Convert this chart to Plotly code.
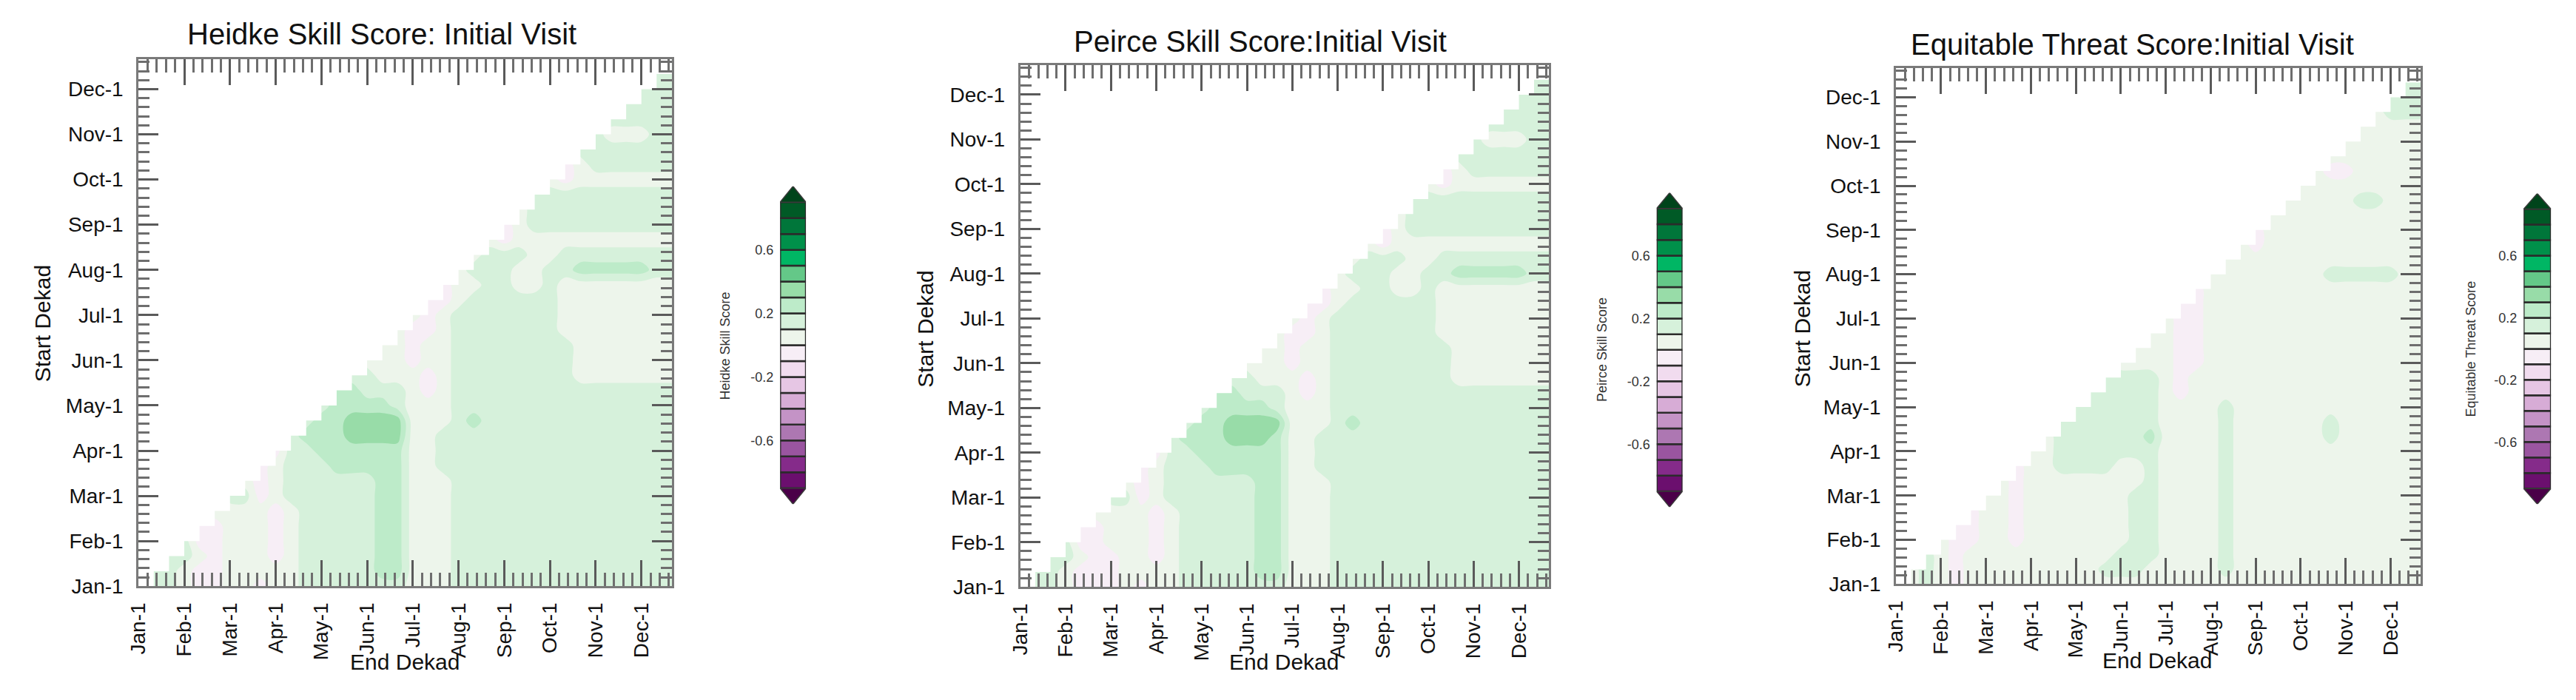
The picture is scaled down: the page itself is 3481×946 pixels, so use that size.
import plotly.graph_objects as go

# page is shown with the default 8 px body margin, so the figure is a bit smaller
PAGE_W, PAGE_H = 3481, 946
OFF = 8
FIG_W, FIG_H = PAGE_W - 2 * OFF, PAGE_H - 2 * OFF
FONT = "Liberation Sans, Arial, Helvetica, sans-serif"

# ---- axes data -------------------------------------------------------------
months = ["Jan-1", "Feb-1", "Mar-1", "Apr-1", "May-1", "Jun-1",
          "Jul-1", "Aug-1", "Sep-1", "Oct-1", "Nov-1", "Dec-1"]
month_dekad = [0, 3, 6, 9, 12, 15, 18, 21, 24, 27, 30, 33]
n_points = 36  # dekad grid points 0..35

# colour classes (0.1 wide) incl. the two open-ended triangles
levels = [-0.9, -0.8, -0.7, -0.6, -0.5, -0.4, -0.3, -0.2, -0.1, 0.0,
          0.1, 0.2, 0.3, 0.4, 0.5, 0.6, 0.7, 0.8, 0.9]
level_colors = ["#4a0048", "#6b0f6e", "#852b8a", "#9a55a0", "#ad77b2",
                "#c493c6", "#d7acd6", "#e6c6e4", "#f1dcef", "#f7eef6",
                "#edf5eb", "#d6f1db", "#bdebc9", "#98dca8", "#64c888",
                "#00b664", "#00904a", "#00763a", "#005a26", "#00441b"]
cb_ticks = [-0.6, -0.2, 0.2, 0.6]

# score class read per grid point -> class mid value
band_mid = {"p": -0.05, "0": 0.05, "1": 0.15, "2": 0.25, "3": 0.35}

# row index = start dekad; each string holds end dekads start..35
heidke_rows = [
    "0110pp00p001111111000111111111111111",
    "110pp000001111122000111111111111111",
    "110p000p01111122000111111111111111",
    "1pp000p01111122000111111111111111",
    "pp000p01111122000111111111111111",
    "0000p01111122000111111111111111",
    "11p011111122000111111111111111",
    "0p011111122000111111111111111",
    "p011122222001111111111111111",
    "p11222222001111111111111111",
    "12223333001111111111111111",
    "1223333000121111111111111",
    "122221000111111111111111",
    "221110p0111111111111111",
    "11000p0111111110000000",
    "000p00111111110000000",
    "00p00111111110000000",
    "0pp0111111100000000",
    "0p0111111100000000",
    "pp011111100000000",
    "p001100100000000",
    "011100112222211",
    "01110011111111",
    "0p00000000000",
    "p01111111111",
    "01111111111",
    "1111111111",
    "0p0000000",
    "p0111111",
    "1111111",
    "100011",
    "11111",
    "1111",
    "111",
    "11",
    "1",
]

peirce_rows = [
    "0110ppp0p001111111000111111111111111",
    "110ppp00001111122000111111111111111",
    "110pp00p01111122000111111111111111",
    "1pp000p01111122000111111111111111",
    "pp000p01111122000111111111111111",
    "0000p01111122000111111111111111",
    "11p011111122000111111111111111",
    "0p011111122000111111111111111",
    "p011122222001111111111111111",
    "p11222222001111111111111111",
    "12223332001111111111111111",
    "1223333000121111111111111",
    "122221000111111111111111",
    "221110p0111111111111111",
    "11000p0111111110000000",
    "000p00111111110000000",
    "00p00111111110000000",
    "0pp0111111100000000",
    "0p0111111100000000",
    "pp011111100000000",
    "p001100100000000",
    "011100112222211",
    "01110011111111",
    "0p00000000000",
    "p01111111111",
    "01111111111",
    "1111111111",
    "0p0000000",
    "p0111111",
    "1111111",
    "100011",
    "11111",
    "1111",
    "111",
    "11",
    "1",
]

ets_rows = [
    "0010p0000000000000000000000000000000",
    "010p0000000001110000010000000000000",
    "10p0000000000111000010000000000000",
    "0pp00p000000011000010000000000000",
    "pp00p000000011000010000000000000",
    "p00p000000011000010000000000000",
    "00p000000011000010000000000000",
    "0p000000001000010000000000000",
    "p001111001000010000000000000",
    "001111111000010000000000000",
    "01111112000010000001000000",
    "1111111000010000001000000",
    "111111000010000000000000",
    "111110p0000000000000000",
    "11110p0000000000000000",
    "0000pp000000000000000",
    "000pp000000000000000",
    "00pp000000000000000",
    "0pp000000000000000",
    "pp000000000000000",
    "p000000000000000",
    "000000001111100",
    "00000000000000",
    "0p00000000000",
    "p00000000000",
    "00000000000",
    "0000011000",
    "000000000",
    "0pp00000",
    "0000000",
    "000000",
    "00000",
    "0111",
    "111",
    "11",
    "1",
]

titles = ["Heidke Skill Score: Initial Visit",
          "Peirce Skill Score:Initial Visit",
          "Equitable Threat Score:Initial Visit"]
cb_titles = ["Heidke Skill Score", "Peirce Skill Score", "Equitable Threat Score"]

# ---- layout (screen pixel boxes) -------------------------------------------
# plot frame: left, right, top, bottom
plot_box = [(172, 896, 81, 806), (1369, 2087, 89, 807), (2558, 3270, 93, 803)]
# colour bar: left, right, top apex, bottom apex
cb_box = [(1043, 1078, 256, 693), (2233, 2268, 265, 697), (3410, 3447, 266, 693)]
title_pos = [(502, 47), (1695, 57), (2879, 61)]
ylab_pos = [(42, 445), (1240, 452), (2431, 452)]
xlab_pos = [(533, 910), (1727, 910), (2912, 908)]
cbt_pos = [(968, 476), (2159, 481), (3338, 480)]


def px(x):
    return (x - OFF) / FIG_W


def py(y):
    return 1 - (y - OFF) / FIG_H


def to_grid(rows):
    z = []
    for j, row in enumerate(rows):
        assert len(row) == n_points - j, (j, len(row))
        z.append([None] * j + [band_mid[c] for c in row])
    return z


# stepped colourscale matching plotly's contour fill mapping (class k -> k/19)
nb = len(level_colors)
cscale = []
for k, col in enumerate(level_colors):
    lo = max(0.0, (k - 0.5) / (nb - 1))
    hi = min(1.0, (k + 0.5) / (nb - 1))
    cscale += [[lo, col], [hi, col]]

fig = go.Figure()
layout_axes = {}
annotations = []

for p, rows in enumerate([heidke_rows, peirce_rows, ets_rows]):
    n = p + 1
    xa, ya = f"x{n}", f"y{n}"
    z = to_grid(rows)
    grid = list(range(n_points))

    fig.add_trace(go.Contour(
        x=grid, y=grid, z=z, xaxis=xa, yaxis=ya,
        connectgaps=True, colorscale=cscale, showscale=False,
        contours=dict(start=levels[0], end=levels[-1], size=0.1,
                      coloring="fill", showlines=False),
        line=dict(width=0), hoverinfo="skip",
    ))

    # white staircase over the cells without data (end dekad before start dekad)
    sx, sy = [0], [0]
    for j in range(n_points - 1):
        edge = sum(1 for i in range(n_points - 1) if z[j + 1][i] is None)
        sx += [edge, edge]
        sy += [j, j + 1]
    sx += [0, 0]
    sy += [n_points - 1, 0]
    fig.add_trace(go.Scatter(
        x=sx, y=sy, xaxis=xa, yaxis=ya, mode="lines", fill="toself",
        fillcolor="white", line=dict(width=0, color="white"), hoverinfo="skip",
    ))

    l, r, t, b = plot_box[p]
    common = dict(
        range=[0, n_points - 1], showgrid=False, zeroline=False,
        showline=True, linecolor="#7a7a7a", linewidth=3, mirror="ticks",
        ticks="inside", tickcolor="#5a5a5a", tickwidth=3,
        tickmode="array", tickvals=month_dekad, ticktext=months,
        tickfont=dict(size=28, color="#111", family=FONT),
    )
    layout_axes[f"xaxis{n}"] = dict(
        common, domain=[px(l), px(r)], anchor=ya, ticklen=35, tickangle=-90,
        ticklabelstandoff=8,
        minor=dict(tickmode="linear", tick0=0, dtick=0.6, ticks="inside",
                   ticklen=18, tickwidth=3, tickcolor="#6e6e6e", showgrid=False),
    )
    layout_axes[f"yaxis{n}"] = dict(
        common, domain=[py(b), py(t)], anchor=xa, ticklen=27,
        ticklabelstandoff=12,
        minor=dict(tickmode="linear", tick0=0, dtick=0.6, ticks="inside",
                   ticklen=15, tickwidth=3, tickcolor="#6e6e6e", showgrid=False),
    )

    # ---- colour bar as its own little axis ----
    c = p + 4
    cxa, cya = f"x{c}", f"y{c}"
    fig.add_trace(go.Bar(
        x=[0] * (len(levels) - 1), y=[0.1] * (len(levels) - 1), base=levels[:-1],
        width=1, xaxis=cxa, yaxis=cya, hoverinfo="skip",
        marker=dict(color=level_colors[1:-1], line=dict(color="#2b2b2b", width=2.5)),
    ))
    for yb, tip, col in [(levels[-1], 1.0, level_colors[-1]),
                         (levels[0], -1.0, level_colors[0])]:
        fig.add_trace(go.Scatter(
            x=[-0.5, 0.5, 0, -0.5], y=[yb, yb, tip, yb], xaxis=cxa, yaxis=cya,
            mode="lines", fill="toself", fillcolor=col,
            line=dict(color="#3a3a3a", width=1.5), hoverinfo="skip",
        ))
    cl, cr, ct, cb = cb_box[p]
    layout_axes[f"xaxis{c}"] = dict(domain=[px(cl), px(cr)], anchor=cya,
                                    range=[-0.5, 0.5], visible=False)
    layout_axes[f"yaxis{c}"] = dict(
        domain=[py(cb), py(ct)], anchor=cxa, range=[-1, 1],
        showgrid=False, zeroline=False, showline=False, ticks="",
        tickmode="array", tickvals=cb_ticks, ticktext=[f"{v:g}" for v in cb_ticks],
        tickfont=dict(size=18, color="#333", family=FONT), ticklabelstandoff=8,
    )

    tx, ty = title_pos[p]
    annotations.append(dict(text=titles[p], x=px(tx), y=py(ty), xref="paper", yref="paper",
                            showarrow=False, xanchor="center", yanchor="middle",
                            font=dict(size=40, color="#111", family=FONT)))
    lx, ly = ylab_pos[p]
    annotations.append(dict(text="Start Dekad", x=px(lx), y=py(ly), xref="paper", yref="paper",
                            showarrow=False, textangle=-90, xanchor="center", yanchor="middle",
                            font=dict(size=30, color="#111", family=FONT)))
    ex, ey = xlab_pos[p]
    annotations.append(dict(text="End Dekad", x=px(ex), y=py(ey), xref="paper", yref="paper",
                            showarrow=False, xanchor="center", yanchor="middle",
                            font=dict(size=30, color="#111", family=FONT)))
    bx, by = cbt_pos[p]
    annotations.append(dict(text=cb_titles[p], x=px(bx), y=py(by), xref="paper", yref="paper",
                            showarrow=False, textangle=-90, xanchor="center", yanchor="middle",
                            font=dict(size=18, color="#333", family=FONT)))

fig.update_layout(
    width=FIG_W, height=FIG_H,
    margin=dict(l=0, r=0, t=0, b=0),
    paper_bgcolor="white", plot_bgcolor="white",
    showlegend=False, font=dict(family=FONT),
    annotations=annotations,
    **layout_axes,
)

fig.write_html("out.html")
